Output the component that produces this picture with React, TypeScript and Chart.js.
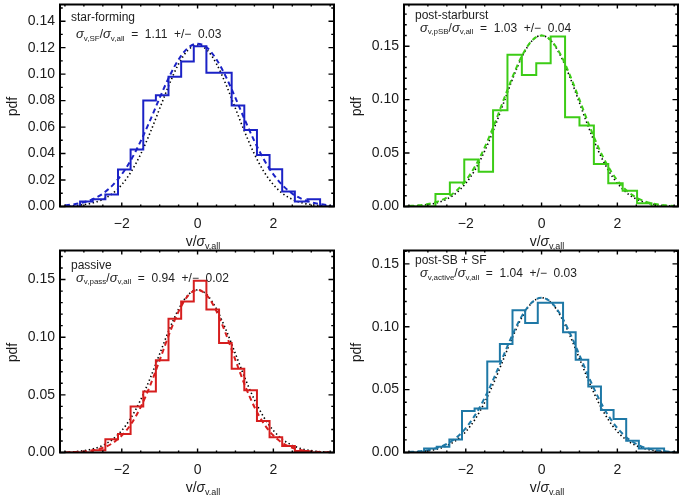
import React, { useEffect, useRef } from 'react';
import { Chart, registerables } from 'chart.js';
Chart.register(...registerables);

const FONT = '"Liberation Sans", Arial, Helvetica, sans-serif';

// sample positions of the smooth curves
const curveX = [-3.5, -3.25, -3, -2.75, -2.5, -2.25, -2, -1.75, -1.5, -1.25, -1, -0.75, -0.5, -0.25, 0, 0.25, 0.5, 0.75, 1, 1.25, 1.5, 1.75, 2, 2.25, 2.5, 2.75, 3, 3.25, 3.5];

// star-forming
const sfEdges = [-3.433, -3.1, -2.767, -2.433, -2.1, -1.767, -1.433, -1.1, -0.767, -0.433, -0.1, 0.233, 0.567, 0.9, 1.233, 1.567, 1.9, 2.233, 2.567, 2.9, 3.233, 3.567];
const sfHist = [0, 0.0038, 0.0055, 0.009, 0.028, 0.043, 0.080, 0.084, 0.098, 0.1096, 0.121, 0.101, 0.101, 0.0763, 0.0577, 0.0389, 0.0281, 0.0113, 0.0038, 0.0055, 0];
const sfDashed = [0.0009, 0.0017, 0.0032, 0.0057, 0.0097, 0.0158, 0.0243, 0.0355, 0.0494, 0.0652, 0.0820, 0.0979, 0.1111, 0.1199, 0.1230, 0.1199, 0.1111, 0.0979, 0.0820, 0.0652, 0.0494, 0.0355, 0.0243, 0.0158, 0.0097, 0.0057, 0.0032, 0.0017, 0.0009];
const sfDotted = [0.0003, 0.0006, 0.0014, 0.0028, 0.0054, 0.0097, 0.0165, 0.0264, 0.0396, 0.0559, 0.0740, 0.0921, 0.1077, 0.1182, 0.1220, 0.1182, 0.1077, 0.0921, 0.0740, 0.0559, 0.0396, 0.0264, 0.0165, 0.0097, 0.0054, 0.0028, 0.0014, 0.0006, 0.0003];

// post-starburst
const psbEdges = [-3.56, -3.18, -2.8, -2.42, -2.04, -1.66, -1.28, -0.9, -0.52, -0.14, 0.24, 0.62, 1.0, 1.38, 1.76, 2.14, 2.52, 2.9, 3.28];
const psbHist = [0, 0, 0.0116, 0.0224, 0.044, 0.0326, 0.090, 0.142, 0.123, 0.134, 0.159, 0.0835, 0.0758, 0.0397, 0.0218, 0.0147, 0.003, 0];
const psbDashed = [0.0005, 0.0011, 0.0023, 0.0045, 0.0084, 0.0147, 0.0243, 0.0378, 0.0554, 0.0766, 0.0999, 0.1227, 0.1422, 0.1554, 0.1600, 0.1554, 0.1422, 0.1227, 0.0999, 0.0766, 0.0554, 0.0378, 0.0243, 0.0147, 0.0084, 0.0045, 0.0023, 0.0011, 0.0005];
const psbDotted = [0.0004, 0.0008, 0.0018, 0.0036, 0.0070, 0.0127, 0.0217, 0.0346, 0.0520, 0.0732, 0.0970, 0.1208, 0.1412, 0.1551, 0.1600, 0.1551, 0.1412, 0.1208, 0.0970, 0.0732, 0.0520, 0.0346, 0.0217, 0.0127, 0.0070, 0.0036, 0.0018, 0.0008, 0.0004];

// passive
const pasEdges = [-3.433, -3.1, -2.767, -2.433, -2.1, -1.767, -1.433, -1.1, -0.767, -0.433, -0.1, 0.233, 0.567, 0.9, 1.233, 1.567, 1.9, 2.233, 2.567, 2.9, 3.233];
const pasHist = [0, 0, 0.002, 0.0114, 0.016, 0.040, 0.053, 0.080, 0.116, 0.131, 0.149, 0.124, 0.095, 0.0726, 0.054, 0.0274, 0.0132, 0.0057, 0.0013, 0];
const pasDashed = [0.0001, 0.0004, 0.0009, 0.0020, 0.0041, 0.0080, 0.0147, 0.0249, 0.0395, 0.0582, 0.0801, 0.1026, 0.1224, 0.1361, 0.1410, 0.1361, 0.1224, 0.1026, 0.0801, 0.0582, 0.0395, 0.0249, 0.0147, 0.0080, 0.0041, 0.0020, 0.0009, 0.0004, 0.0001];
const pasDotted = [0.0003, 0.0007, 0.0016, 0.0032, 0.0062, 0.0112, 0.0191, 0.0305, 0.0458, 0.0645, 0.0855, 0.1064, 0.1244, 0.1367, 0.1410, 0.1367, 0.1244, 0.1064, 0.0855, 0.0645, 0.0458, 0.0305, 0.0191, 0.0112, 0.0062, 0.0032, 0.0016, 0.0007, 0.0003];

// post-SB + SF
const actEdges = [-3.433, -3.1, -2.767, -2.433, -2.1, -1.767, -1.433, -1.1, -0.767, -0.433, -0.1, 0.233, 0.567, 0.9, 1.233, 1.567, 1.9, 2.233, 2.567, 2.9, 3.233, 3.567];
const actHist = [0, 0.0032, 0.0045, 0.0104, 0.033, 0.035, 0.0723, 0.0862, 0.113, 0.103, 0.119, 0.119, 0.0957, 0.0737, 0.0524, 0.0338, 0.0266, 0.0093, 0.0032, 0.0032, 0];
const actDashed = [0.0004, 0.0009, 0.0019, 0.0037, 0.0068, 0.0118, 0.0194, 0.0299, 0.0435, 0.0597, 0.0775, 0.0948, 0.1096, 0.1195, 0.1230, 0.1195, 0.1096, 0.0948, 0.0775, 0.0597, 0.0435, 0.0299, 0.0194, 0.0118, 0.0068, 0.0037, 0.0019, 0.0009, 0.0004];
const actDotted = [0.0003, 0.0006, 0.0014, 0.0028, 0.0054, 0.0098, 0.0166, 0.0266, 0.0399, 0.0563, 0.0746, 0.0928, 0.1085, 0.1192, 0.1230, 0.1192, 0.1085, 0.0928, 0.0746, 0.0563, 0.0399, 0.0266, 0.0166, 0.0098, 0.0054, 0.0028, 0.0014, 0.0006, 0.0003];

// axes
const xRange = [-3.63, 3.6];
const xTicks = [-2, 0, 2];
const xTickLabels = ['\u22122', '0', '2'];
const yTicksFine = [0, 0.02, 0.04, 0.06, 0.08, 0.10, 0.12, 0.14];
const yTicksCoarse = [0, 0.05, 0.10, 0.15];

type Cfg = {
  title: string; sub: string; ratio: string; err: string; color: string;
  edges: number[]; hist: number[]; dashed: number[]; dotted: number[];
  yMax: number; yTicks: number[];
  left: number; top: number; h: number; titleDy: number; sigmaDy: number;
};

const panels: Cfg[] = [
  { title: 'star-forming', sub: 'v,SF', ratio: '1.11', err: '0.03', color: '#1b22c6', edges: sfEdges, hist: sfHist, dashed: sfDashed, dotted: sfDotted, yMax: 0.1526, yTicks: yTicksFine, left: 0, top: 0, h: 256, titleDy: 16, sigmaDy: 33.5 },
  { title: 'post-starburst', sub: 'v,pSB', ratio: '1.03', err: '0.04', color: '#3ccc16', edges: psbEdges, hist: psbHist, dashed: psbDashed, dotted: psbDotted, yMax: 0.189, yTicks: yTicksCoarse, left: 344, top: 0, h: 256, titleDy: 14.5, sigmaDy: 27 },
  { title: 'passive', sub: 'v,pass', ratio: '0.94', err: '0.02', color: '#d61e1e', edges: pasEdges, hist: pasHist, dashed: pasDashed, dotted: pasDotted, yMax: 0.1752, yTicks: yTicksCoarse, left: 0, top: 246, h: 249, titleDy: 18.5, sigmaDy: 31 },
  { title: 'post-SB + SF', sub: 'v,active', ratio: '1.04', err: '0.03', color: '#1e78a6', edges: actEdges, hist: actHist, dashed: actDashed, dotted: actDotted, yMax: 0.1606, yTicks: yTicksCoarse, left: 344, top: 246, h: 249, titleDy: 13.5, sigmaDy: 26.5 },
];

const W = 344;
const AREA_LEFT = 60;
const AREA_RIGHT = 334;
const AREA_TOP = 4.5;
const AREA_BOTTOM = 206.5;

type Part = { t: string; sub?: boolean; italic?: boolean; size?: number };

function drawRich(ctx: CanvasRenderingContext2D, parts: Part[], x: number, y: number, base: number, align: 'left' | 'center') {
  const fontFor = (p: Part) => `${p.italic ? 'italic ' : ''}${p.size ?? (p.sub ? Math.round(base * 0.62) : base)}px ${FONT}`;
  let total = 0;
  for (const p of parts) { ctx.font = fontFor(p); total += ctx.measureText(p.t).width; }
  let cx = align === 'center' ? x - total / 2 : x;
  ctx.textAlign = 'left';
  ctx.textBaseline = 'alphabetic';
  for (const p of parts) {
    ctx.font = fontFor(p);
    ctx.fillText(p.t, cx, y + (p.sub ? base * 0.22 : 0));
    cx += ctx.measureText(p.t).width;
  }
}

function makeDecor(cfg: Cfg) {
  return {
    id: 'decor',
    afterDatasetsDraw(chart: any) {
      const ctx: CanvasRenderingContext2D = chart.ctx;
      const { left, right, top, bottom } = chart.chartArea;
      const xs = chart.scales.x;
      const ys = chart.scales.y;
      ctx.save();
      ctx.strokeStyle = '#000';
      ctx.lineWidth = 1.4;
      ctx.beginPath();
      // x ticks (major + minor), bottom and top, pointing inward
      const xMajLen = 4, xMinLen = 2;
      for (let v = Math.ceil(xs.min / 0.5) * 0.5; v <= xs.max + 1e-9; v += 0.5) {
        const px = xs.getPixelForValue(v);
        const major = Math.abs(v / 2 - Math.round(v / 2)) < 1e-6;
        const len = major ? xMajLen : xMinLen;
        ctx.moveTo(px, bottom); ctx.lineTo(px, bottom - len);
        ctx.moveTo(px, top); ctx.lineTo(px, top + len);
      }
      const yMajStep = cfg.yTicks[1] - cfg.yTicks[0];
      const yMajLen = 5.5, yMinLen = 2.75;
      for (let i = 0; i * 0.01 <= ys.max + 1e-9; i++) {
        const v = i * 0.01;
        const py = ys.getPixelForValue(v);
        const r = v / yMajStep;
        const major = Math.abs(r - Math.round(r)) < 1e-6;
        const len = major ? yMajLen : yMinLen;
        ctx.moveTo(left, py); ctx.lineTo(left + len, py);
        ctx.moveTo(right, py); ctx.lineTo(right - len, py);
      }
      ctx.stroke();
      // frame
      ctx.lineWidth = 2;
      ctx.strokeRect(left, top, right - left, bottom - top);

      // tick labels
      ctx.fillStyle = '#1a1a1a';
      ctx.font = `14px ${FONT}`;
      ctx.textAlign = 'right';
      ctx.textBaseline = 'middle';
      for (const t of ys.ticks) {
        ctx.fillText(t.value.toFixed(2), left - 5, ys.getPixelForValue(t.value));
      }
      ctx.textAlign = 'center';
      xs.ticks.forEach((t: any, i: number) => {
        ctx.fillText(xTickLabels[i], xs.getPixelForValue(t.value), bottom + 18);
      });

      // axis titles
      drawRich(ctx, [{ t: 'v/' }, { t: '\u03c3', italic: true }, { t: 'v,all', sub: true, size: 9 }], (left + right) / 2 + 6, bottom + 39, 14, 'center');
      ctx.save();
      ctx.translate(13, (top + bottom) / 2 + 1);
      ctx.rotate(-Math.PI / 2);
      ctx.textAlign = 'center';
      ctx.textBaseline = 'middle';
      ctx.font = `14px ${FONT}`;
      ctx.fillText('pdf', 0, 0);
      ctx.restore();

      // annotations
      ctx.fillStyle = '#222';
      ctx.font = `12px ${FONT}`;
      ctx.textAlign = 'left';
      ctx.textBaseline = 'alphabetic';
      ctx.fillText(cfg.title, left + 11, top + cfg.titleDy);
      drawRich(ctx, [
        { t: '\u03c3', italic: true, size: 13 },
        { t: cfg.sub, sub: true, size: 8 },
        { t: '/' },
        { t: '\u03c3', italic: true, size: 13 },
        { t: 'v,all', sub: true, size: 8 },
        { t: '  =  ' + cfg.ratio + '  +/\u2212  ' + cfg.err },
      ], left + 16, top + cfg.sigmaDy, 12, 'left');
      ctx.restore();
    },
  };
}

function Panel({ cfg }: { cfg: Cfg }) {
  const ref = useRef<HTMLCanvasElement | null>(null);
  useEffect(() => {
    const canvas = ref.current;
    if (!canvas) return;
    const histPts = cfg.hist.map((v, i) => ({ x: cfg.edges[i], y: v }));
    histPts.push({ x: cfg.edges[cfg.edges.length - 1], y: cfg.hist[cfg.hist.length - 1] });
    const dashedPts = curveX.map((x, i) => ({ x, y: cfg.dashed[i] }));
    const dottedPts = curveX.map((x, i) => ({ x, y: cfg.dotted[i] }));
    const chart = new Chart(canvas, {
      type: 'line',
      data: {
        datasets: [
          { data: histPts, stepped: true, borderColor: cfg.color, borderWidth: 2, pointRadius: 0, fill: false },
          { data: dashedPts, borderColor: cfg.color, borderWidth: 2, borderDash: [5, 3.5], pointRadius: 0, fill: false, cubicInterpolationMode: 'monotone' },
          { data: dottedPts, borderColor: '#000', borderWidth: 1.6, borderDash: [1.4, 2.6], pointRadius: 0, fill: false, cubicInterpolationMode: 'monotone' },
        ] as any,
      },
      options: {
        animation: false,
        responsive: false,
        devicePixelRatio: 1,
        events: [],
        layout: { padding: { left: 0, right: W - AREA_RIGHT, top: AREA_TOP, bottom: 0 } },
        plugins: { legend: { display: false }, tooltip: { enabled: false } },
        scales: {
          x: {
            type: 'linear', min: xRange[0], max: xRange[1],
            grid: { display: false }, border: { display: false },
            ticks: { display: false },
            afterBuildTicks: (s: any) => { s.ticks = xTicks.map((v) => ({ value: v })); },
            afterFit: (s: any) => { s.height = cfg.h - AREA_BOTTOM; },
          },
          y: {
            type: 'linear', min: 0, max: cfg.yMax,
            grid: { display: false }, border: { display: false },
            ticks: { display: false },
            afterBuildTicks: (s: any) => { s.ticks = cfg.yTicks.map((v) => ({ value: v })); },
            afterFit: (s: any) => { s.width = AREA_LEFT; },
          },
        },
      } as any,
      plugins: [makeDecor(cfg)],
    });
    return () => chart.destroy();
  }, [cfg]);
  return (
    <canvas
      ref={ref}
      width={W}
      height={cfg.h}
      style={{ position: 'absolute', left: cfg.left, top: cfg.top, width: W, height: cfg.h, display: 'block' }}
    />
  );
}

export default function App() {
  return (
    <div style={{ position: 'absolute', left: 0, top: 0, width: 688, height: 495, background: '#fff', overflow: 'hidden' }}>
      {panels.map((p, i) => (
        <Panel key={i} cfg={p} />
      ))}
    </div>
  );
}
